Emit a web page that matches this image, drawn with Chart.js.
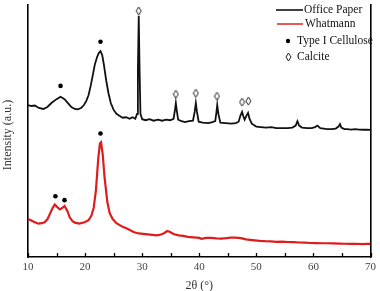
<!DOCTYPE html>
<html>
<head>
<meta charset="utf-8">
<script src="https://cdn.jsdelivr.net/npm/chart.js@4/dist/chart.umd.min.js"></script>
<style>
    html, body { margin: 0; padding: 0; background: #fff; }
    #wrap { width: 380px; height: 291px; }
</style>
</head>
<body>
<div id="wrap"><canvas id="xrd"></canvas></div>
<script>
// ================= DATA =================
// [2θ, intensity] pairs
const officePaper = [
    [10, 155], [10.6, 154], [11.2, 154.5], [11.9, 152], [12.7, 151], [13.4, 153], [14.1, 157],
    [15.0, 161], [15.7, 163.5], [16.4, 161], [17.0, 157], [17.6, 153], [18.2, 151], [18.7, 150.5],
    [19.3, 152], [19.8, 155], [20.2, 159], [20.6, 165], [21.0, 175], [21.3, 184], [21.7, 196],
    [22.1, 204], [22.4, 208], [22.7, 210], [23.0, 206], [23.3, 196], [23.7, 180], [24.1, 167],
    [24.5, 157], [25.0, 150], [25.5, 146], [26.0, 144], [26.6, 142], [27.2, 142.5], [27.8, 141],
    [28.3, 142.5], [28.8, 141], [29.1, 146], [29.25, 190], [29.4, 246], [29.55, 190], [29.7, 146],
    [30.0, 140.5], [30.6, 139.5], [31.3, 140.5], [32.0, 139], [32.8, 140], [33.5, 139], [34.2, 140],
    [34.9, 139.5], [35.5, 141], [35.75, 150], [35.9, 157], [36.05, 150], [36.3, 140], [36.9, 138.5],
    [37.5, 137.5], [38.2, 138.5], [38.9, 139], [39.2, 148], [39.4, 157], [39.6, 148], [39.9, 138],
    [40.6, 137], [41.6, 136.5], [42.3, 137.5], [42.8, 138.5], [43.0, 147], [43.15, 155], [43.35, 146],
    [43.7, 137], [44.6, 136.5], [45.6, 136], [46.4, 136.5], [46.9, 138], [47.2, 144], [47.5, 148],
    [47.75, 143], [47.95, 140], [48.25, 144], [48.55, 147], [48.8, 141], [49.2, 136], [50.0, 133],
    [50.8, 132.5], [51.7, 132], [52.6, 132.5], [53.5, 131.5], [54.5, 131.5], [55.5, 131.5], [56.3, 132],
    [56.9, 134], [57.2, 138.5], [57.5, 134], [58.0, 132], [58.9, 131.5], [59.7, 131.5], [60.3, 132.5],
    [60.7, 134], [61.2, 131.5], [61.8, 131], [62.4, 130.5], [63.2, 130.5], [63.9, 131], [64.4, 133],
    [64.65, 135.5], [64.9, 132], [65.4, 130.5], [65.9, 130.5], [66.6, 130], [67.3, 130.5], [68.0, 130],
    [68.8, 129.8], [69.4, 130], [70, 129.7]
];

const whatmann = [
    [10, 38.7], [10.5, 37.5], [11.0, 36], [11.8, 34], [12.4, 34.5], [12.9, 35.5], [13.4, 38.5],
    [13.8, 43.5], [14.3, 50], [14.7, 53.5], [15.2, 50.5], [15.6, 48.5], [16.0, 50], [16.4, 52],
    [16.9, 47], [17.3, 40.5], [17.8, 36.5], [18.2, 35], [19.0, 34], [19.9, 35.5], [20.6, 37.5],
    [21.1, 42], [21.5, 50], [21.9, 68], [22.3, 100], [22.6, 116], [22.8, 117], [23.1, 104],
    [23.4, 82], [23.9, 56], [24.3, 45], [24.8, 39], [25.5, 34.5], [26.5, 31], [27.5, 28.5],
    [28.5, 25.5], [29.4, 24], [30.2, 23.5], [31.0, 23], [31.8, 22.5], [32.6, 22], [33.3, 23],
    [33.9, 24.5], [34.4, 26.5], [34.9, 25.5], [35.5, 23.5], [36.4, 22], [37.2, 21.5], [38.0, 20.5],
    [39.0, 20], [40.0, 19.5], [40.4, 18.5], [41.2, 19.5], [42.0, 19.5], [43.0, 19], [43.9, 18.8],
    [44.8, 19.3], [45.5, 19.8], [46.2, 19.8], [46.9, 19.5], [47.5, 19], [48.2, 18], [48.9, 17.5],
    [49.7, 17], [50.6, 16.5], [51.5, 16.2], [52.5, 16], [53.5, 15.5], [54.5, 15.6], [55.5, 15.3],
    [56.5, 15.2], [57.5, 14.8], [58.5, 14.6], [59.5, 14.3], [60.5, 14.2], [61.5, 14], [62.5, 14],
    [63.5, 13.8], [64.5, 13.6], [65.5, 13.5], [66.5, 13.3], [67.5, 13.5], [68.5, 13.2], [69.3, 13.4],
    [70, 13.3]
];

// peak markers
const celluloseMarks = [[15.7, 174.5], [22.7, 219.5], [14.8, 62], [16.4, 58], [22.7, 126]];
const calciteMarks = [[29.4, 251], [35.9, 166], [39.4, 167], [43.1, 164], [47.5, 158], [48.6, 159]];

const xTicks = [10, 20, 30, 40, 50, 60, 70];
const minorStep = 5;
const legendItems = ['Office Paper', 'Whatmann', 'Type I Cellulose', 'Calcite'];
const yTitle = 'Intensity (a.u.)';

const SERIF = '"Liberation Serif", "DejaVu Serif", serif';
const toXY = arr => arr.map(p => ({ x: p[0], y: p[1] }));

// hollow tall diamond used for calcite marks
function makeDiamond() {
    const c = document.createElement('canvas');
    c.width = 7; c.height = 10;
    const g = c.getContext('2d');
    g.strokeStyle = '#222';
    g.lineWidth = 1;
    g.beginPath();
    g.moveTo(3.5, 1); g.lineTo(6, 5); g.lineTo(3.5, 9); g.lineTo(1, 5); g.closePath();
    g.stroke();
    return c;
}
const diamond = makeDiamond();

// inward minor/major ticks on the bottom axis + the rotated y title
const innerTicks = {
    id: 'innerTicks',
    afterDraw(chart) {
        const { ctx, scales: { x }, chartArea } = chart;
        ctx.save();
        ctx.strokeStyle = '#000';
        ctx.lineWidth = 1.3;
        for (let v = x.min; v <= x.max; v += minorStep) {
            const px = Math.round(x.getPixelForValue(v)) + 0.5;
            ctx.beginPath();
            ctx.moveTo(px, chartArea.bottom);
            ctx.lineTo(px, chartArea.bottom - 4);
            ctx.stroke();
        }
        // y title sits a bit below the axis middle in the original
        ctx.translate(8, 135);
        ctx.rotate(-Math.PI / 2);
        ctx.font = '12px ' + SERIF;
        ctx.fillStyle = '#333';
        ctx.textAlign = 'center';
        ctx.textBaseline = 'middle';
        ctx.fillText(yTitle, 0, 0);
        ctx.restore();
    }
};

// legend block in the top right corner
const cornerLegend = {
    id: 'cornerLegend',
    afterDraw(chart) {
        const ctx = chart.ctx;
        ctx.save();
        ctx.font = '11.5px ' + SERIF;
        ctx.textBaseline = 'middle';
        ctx.fillStyle = '#111';

        ctx.lineWidth = 1.5;
        ctx.strokeStyle = '#000';
        ctx.beginPath(); ctx.moveTo(276, 10); ctx.lineTo(303, 10); ctx.stroke();
        ctx.fillText(legendItems[0], 304, 10);

        ctx.strokeStyle = '#e02020';
        ctx.beginPath(); ctx.moveTo(277, 24); ctx.lineTo(303, 24); ctx.stroke();
        ctx.fillText(legendItems[1], 305, 24);

        ctx.beginPath(); ctx.arc(288, 41, 2.2, 0, Math.PI * 2); ctx.fillStyle = '#000'; ctx.fill();
        ctx.fillStyle = '#111';
        ctx.fillText(legendItems[2], 297, 41);

        ctx.drawImage(diamond, 285, 52);
        ctx.fillText(legendItems[3], 297, 57);
        ctx.restore();
    }
};

// ================= CHART =================
function init() {
    const ctx = document.getElementById('xrd').getContext('2d');
    new Chart(ctx, {
        type: 'line',
        data: {
            datasets: [{
                label: legendItems[0],
                data: toXY(officePaper),
                borderColor: '#111',
                borderWidth: 1.8,
                pointRadius: 0,
                tension: 0
            }, {
                label: legendItems[1],
                data: toXY(whatmann),
                borderColor: '#e01b1b',
                borderWidth: 2.2,
                pointRadius: 0,
                tension: 0
            }, {
                type: 'scatter',
                label: legendItems[2],
                data: toXY(celluloseMarks),
                pointRadius: 2.3,
                pointBackgroundColor: '#000',
                pointBorderWidth: 0,
                clip: false
            }, {
                type: 'scatter',
                label: legendItems[3],
                data: toXY(calciteMarks),
                pointStyle: diamond,
                clip: false
            }]
        },
        options: {
            responsive: false,
            animation: false,
            layout: { padding: 0 },
            plugins: {
                legend: { display: false },
                tooltip: { enabled: false }
            },
            scales: {
                x: {
                    type: 'linear',
                    min: 10,
                    max: 70,
                    afterFit: s => { s.height = 34; },
                    afterBuildTicks: s => { s.ticks = xTicks.map(v => ({ value: v })); },
                    ticks: {
                        padding: 4,
                        maxRotation: 0,
                        autoSkip: false,
                        color: '#444',
                        font: { family: SERIF, size: 11 }
                    },
                    grid: { drawOnChartArea: false, drawTicks: false },
                    border: { color: '#000', width: 1.6 },
                    title: {
                        display: true,
                        text: '2θ (°)',
                        color: '#333',
                        font: { family: SERIF, size: 12, lineHeight: 0.8 },
                        padding: { top: 0, bottom: 0 }
                    }
                },
                y: {
                    min: 0,
                    max: 257,
                    afterFit: s => { s.width = 28; },
                    ticks: { display: false },
                    grid: { drawOnChartArea: false, drawTicks: false },
                    border: { color: '#000', width: 1.6 }
                },
                y2: {
                    position: 'right',
                    min: 0,
                    max: 257,
                    afterFit: s => { s.width = 7; },
                    ticks: { display: false },
                    grid: { drawOnChartArea: false, drawTicks: false },
                    border: { color: '#000', width: 1.6 }
                }
            }
        },
        plugins: [innerTicks, cornerLegend]
    });
}

const cv = document.getElementById('xrd');
cv.width = 380;
cv.height = 291;
window.addEventListener('DOMContentLoaded', init);
</script>
</body>
</html>
